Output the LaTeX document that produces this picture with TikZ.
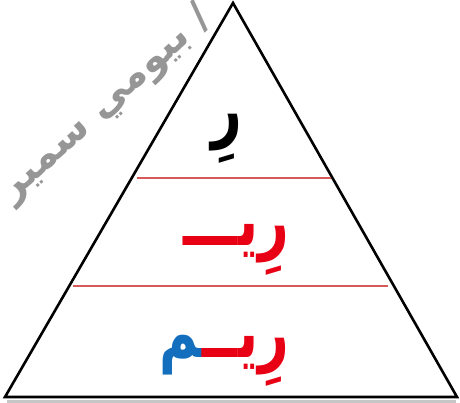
\documentclass[tikz,border=0pt]{standalone}
\usepackage{fontspec}
\TeXXeTstate=1
\newfontfamily\arabicfont[Script=Arabic]{DejaVu Sans}
\definecolor{ared}{RGB}{232,0,20}
\definecolor{ablue}{RGB}{20,110,190}
\definecolor{lred}{RGB}{214,90,90}
\definecolor{wm}{RGB}{150,150,150}
\tikzset{
  edge/.style={line width=2.6pt, line join=miter},
  sep/.style={lred, line width=1.5pt},
  word/.style={inner sep=0pt, xscale=0.74, transform shape, font=\fontsize{72}{74}\arabicfont\bfseries},
}
\begin{document}
\begin{tikzpicture}[x=1pt,y=-1pt]
\useasboundingbox (0,0) rectangle (460,403);
\fill[white] (0,0) rectangle (460,403);
% watermark
\node (wm) [rotate=42, text=wm, inner sep=0pt, font=\fontsize{40}{42}\arabicfont\bfseries] at (106,104) {\beginR / بيومي سمير\endR};
% triangle
\coordinate (A) at (233,3);
\coordinate (L) at (5,397);
\coordinate (R) at (457,397);
\coordinate (sL) at (7,401);
\coordinate (sR) at (456,401);
\draw[gray!45, line width=3pt] (sL) -- (sR);
\draw[edge] (A) -- (L) -- (R) -- cycle;
% separators
\coordinate (l1a) at (137,178);
\coordinate (l1b) at (331,178);
\coordinate (l2a) at (73,286);
\coordinate (l2b) at (388,286);
\draw[sep] (l1a) -- (l1b);
\draw[sep] (l2a) -- (l2b);
% words
\node (w1) [word, text=black, anchor=base east] at (242,134) {\beginR رِ\endR};
\node (w2) [word, text=ared, anchor=base east] at (289,246) {\beginR رِيـــ\endR};
\node (w3) [word, text=ared, anchor=base east] at (289,357) {\beginR رِيــ\endR};
\node (w4) [word, text=ablue, anchor=base east] at (w3.base west) {\beginR ^^^^200dم\endR};
\end{tikzpicture}
\end{document}
